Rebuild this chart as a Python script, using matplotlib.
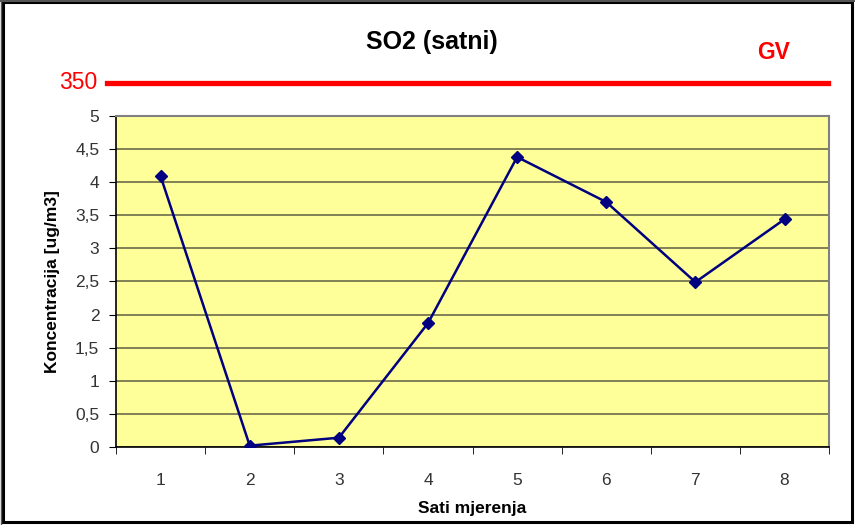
import matplotlib
matplotlib.use("Agg")
import matplotlib.pyplot as plt
from matplotlib.lines import Line2D
from matplotlib.patches import Rectangle
from matplotlib.ticker import FuncFormatter, MultipleLocator

plt.rcParams['font.family'] = ['Liberation Sans', 'DejaVu Sans']

# podaci
sati = [1, 2, 3, 4, 5, 6, 7, 8]
so2 = [4.09, 0.02, 0.14, 1.87, 4.38, 3.70, 2.49, 3.44]
gv = 350

fig = plt.figure(figsize=(8.55, 5.25), dpi=100)
fig.patch.set_facecolor('white')

# okvir oko grafikona
fig.patches.append(Rectangle((0.0035, 0.006), 0.9935, 0.99, transform=fig.transFigure,
                             fill=False, edgecolor='black', linewidth=2.2, zorder=0))
fig.lines.append(Line2D([0.001, 0.001], [0.0, 1.0], transform=fig.transFigure,
                        color='#555555', lw=1.0))
fig.lines.append(Line2D([0.0, 1.0], [0.999, 0.999], transform=fig.transFigure,
                        color='#555555', lw=1.5))

ax = fig.add_axes([0.1357, 0.1486, 0.834, 0.6305])
ax.set_facecolor('#FFFF99')

ax.plot(sati, so2, color='#000080', lw=1.8, marker='D', ms=6, mfc='#000080', mec='#000080', zorder=3)

ax.set_xlim(0.5, 8.5)
ax.set_ylim(0, 5)
ax.yaxis.set_major_locator(MultipleLocator(0.5))
ax.yaxis.set_major_formatter(FuncFormatter(lambda v, p: ('%g' % v).replace('.', ',')))
ax.grid(axis='y', color='#6b6b4a', lw=1.2)
ax.set_axisbelow(True)

ax.set_xticks(sati)
ax.set_xticks([x + 0.5 for x in [0] + sati], minor=True)
ax.tick_params(axis='x', which='major', length=0, pad=19, labelsize=12.5, colors='#333333')
ax.tick_params(axis='x', which='minor', length=5, direction='out', color='black')
ax.tick_params(axis='y', length=5, direction='out', pad=7, labelsize=12.5, colors='#333333')
ax.tick_params(axis='both', which='both', color='black')

for s in ['top', 'right']:
    ax.spines[s].set_color('#808080')
    ax.spines[s].set_linewidth(1.5)
for s in ['left', 'bottom']:
    ax.spines[s].set_color('black')
    ax.spines[s].set_linewidth(1.2)

ax.set_xlabel('Sati mjerenja', fontsize=12.5, fontweight='bold', labelpad=9)
ax.set_ylabel('Koncentracija [ug/m3]', fontsize=12.5, fontweight='bold', labelpad=11)

fig.text(0.505, 0.92, 'SO2 (satni)', ha='center', va='center', fontsize=18, fontweight='bold')

# granicna vrijednost
fig.lines.append(Line2D([0.125, 0.968], [0.842, 0.842], transform=fig.transFigure,
                        color='red', lw=3.8))
fig.text(0.114, 0.842, str(gv), ha='right', va='center', fontsize=16.5, color='red')
fig.text(0.905, 0.9, 'GV', ha='center', va='center', fontsize=16.5, fontweight='bold', color='red')

fig.savefig('out.png', dpi=100)
